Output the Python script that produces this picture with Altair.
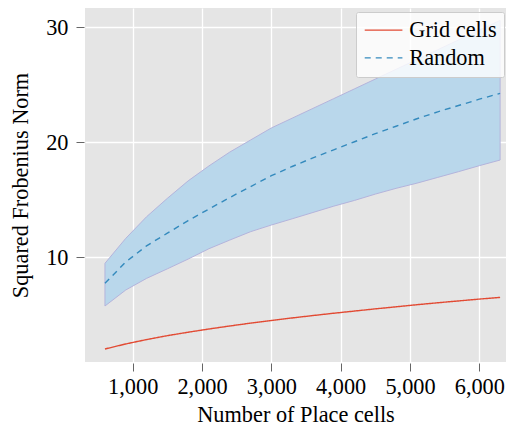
import altair as alt
import pandas as pd

x_vals = [600, 900, 1200, 1500, 1800, 2100, 2400, 2700, 3000, 3300,
          3600, 3900, 4200, 4500, 4800, 5100, 5400, 5700, 6000, 6300]
grid_cells = [2.03, 2.47, 2.85, 3.19, 3.49, 3.77, 4.03, 4.28, 4.51, 4.73,
              4.94, 5.14, 5.33, 5.52, 5.70, 5.88, 6.05, 6.21, 6.37, 6.52]
random_mean = [7.74, 9.6, 11.0, 12.1, 13.2, 14.2, 15.2, 16.15, 17.1, 17.9,
               18.65, 19.35, 20.05, 20.75, 21.4, 22.05, 22.65, 23.2, 23.75, 24.26]
random_upper = [9.48, 11.65, 13.53, 15.13, 16.65, 17.95, 19.15, 20.2, 21.25, 22.1,
                22.95, 23.8, 24.65, 25.5, 26.35, 27.2, 28.05, 28.9, 29.75, 30.6]
random_lower = [5.77, 7.16, 8.17, 9.0, 9.85, 10.75, 11.5, 12.23, 12.81, 13.35,
                13.9, 14.45, 14.95, 15.5, 16.0, 16.45, 16.95, 17.45, 17.97, 18.46]
series_names = ["Grid cells", "Random"]
x_ticks = [1000, 2000, 3000, 4000, 5000, 6000]
y_ticks = [10, 20, 30]

lines_df = pd.DataFrame({
    "x": x_vals * 2,
    "value": grid_cells + random_mean,
    "series": [series_names[0]] * len(x_vals) + [series_names[1]] * len(x_vals),
})
band_df = pd.DataFrame({"x": x_vals, "lower": random_lower, "upper": random_upper})

FONT = "Liberation Serif"
FS = 22.3
xscale = alt.Scale(domain=[312, 6385], nice=False, zero=False)
yscale = alt.Scale(domain=[0.9, 31.68], nice=False, zero=False)

xaxis = alt.Axis(values=x_ticks, format=",d", title="Number of Place cells",
                 grid=True, gridColor="white", gridWidth=1.3, domain=False,
                 ticks=True, tickSize=8, tickColor="#666666", tickWidth=1, offset=1,
                 labelFont=FONT, labelFontSize=FS, labelColor="black", labelPadding=4,
                 titleFont=FONT, titleFontSize=FS, titleFontWeight="normal",
                 titleColor="black", titlePadding=6)
yaxis = alt.Axis(values=y_ticks, title="Squared Frobenius Norm",
                 grid=True, gridColor="white", gridWidth=1.3, domain=False,
                 ticks=True, tickSize=8, tickColor="#666666", tickWidth=1, offset=1,
                 labelFont=FONT, labelFontSize=FS, labelColor="black", labelPadding=8,
                 titleFont=FONT, titleFontSize=FS, titleFontWeight="normal",
                 titleColor="black", titlePadding=13)

band = alt.Chart(band_df).mark_area(
    color="#B9D7EB", opacity=1, stroke="#B4B4DC", strokeWidth=1
).encode(
    x=alt.X("x:Q", scale=xscale, axis=xaxis),
    y=alt.Y("lower:Q", scale=yscale, axis=yaxis),
    y2="upper:Q",
)

lines = alt.Chart(lines_df).mark_line(strokeWidth=1.4).encode(
    x=alt.X("x:Q", scale=xscale, axis=xaxis),
    y=alt.Y("value:Q", scale=yscale, axis=yaxis),
    color=alt.Color("series:N",
                    scale=alt.Scale(domain=series_names, range=["#E24A33", "#348ABD"]),
                    legend=alt.Legend(title=None)),
    strokeDash=alt.StrokeDash("series:N",
                              scale=alt.Scale(domain=series_names, range=[[1, 0], [6, 5]]),
                              legend=alt.Legend(title=None)),
)

chart = alt.layer(band, lines).properties(
    width=421, height=354,
    autosize=alt.AutoSizeParams(type="none"),
    padding={"left": 77, "top": 0, "right": 0, "bottom": 68},
).configure_view(
    fill="#E5E5E5", stroke=None
).configure_legend(
    orient="none", legendX=271, legendY=4,
    fillColor="rgba(255,255,255,0.8)", strokeColor="#CCCCCC", cornerRadius=2,
    padding=7, labelFont=FONT, labelFontSize=FS, labelColor="black",
    labelOffset=24, symbolType="M-1,0L3,0", symbolSize=355, symbolStrokeWidth=1.4,
    symbolFillColor="transparent", rowPadding=4.7, labelLimit=300
)

chart.save("out.html", embed_options={"renderer": "svg", "actions": False})
